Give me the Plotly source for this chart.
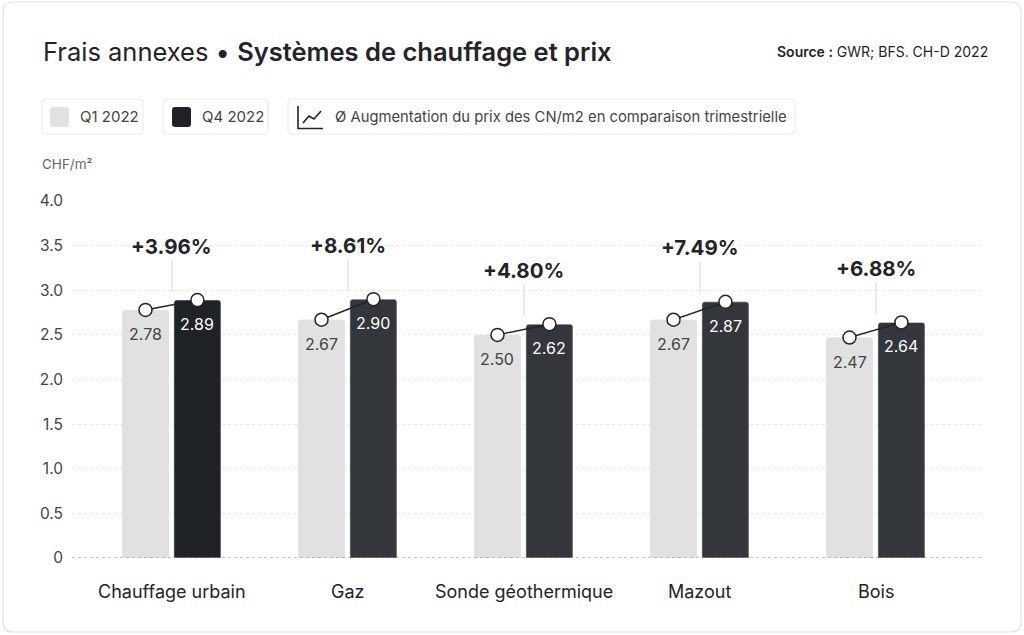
import plotly.graph_objects as go

categories = ["Chauffage urbain", "Gaz", "Sonde géothermique", "Mazout", "Bois"]
q1_values = [2.78, 2.67, 2.50, 2.67, 2.47]
q4_values = [2.89, 2.90, 2.62, 2.87, 2.64]
pct_labels = ["+3.96%", "+8.61%", "+4.80%", "+7.49%", "+6.88%"]
y_tickvals = [0, 0.5, 1.0, 1.5, 2.0, 2.5, 3.0, 3.5, 4.0]
y_ticktext = ["0", "0.5", "1.0", "1.5", "2.0", "2.5", "3.0", "3.5", "4.0"]
series_names = ["Q1 2022", "Q4 2022"]
line_legend = "Ø Augmentation du prix des CN/m2 en comparaison trimestrielle"

W, H = 1024, 635
ML, MR, MT, MB = 72, 41, 201, 77
PW, PH = W - ML - MR, H - MT - MB

def px(x):
    return (x - ML) / PW

def py(y):
    return (H - MB - y) / PH

FONT = "Inter, Roboto, sans-serif"
LIGHT = "#e1e1e1"
DARK = "#33363a"
DARKEST = "#1f2326"
TXT = "#222427"
SEMI = '<span style="font-weight:600">{}</span>'

idx = list(range(len(categories)))
BW = 0.267
OFF1, OFF2 = -0.284, 0.011
c1 = [i + OFF1 + BW / 2 for i in idx]
c2 = [i + OFF2 + BW / 2 for i in idx]

fig = go.Figure()
fig.add_trace(go.Bar(x=idx, y=q1_values, width=BW, offset=OFF1, marker_color=LIGHT,
                     name=series_names[0], showlegend=False, hoverinfo="skip"))
fig.add_trace(go.Bar(x=idx, y=q4_values, width=BW, offset=OFF2,
                     marker_color=[DARKEST] + [DARK] * (len(idx) - 1),
                     name=series_names[1], showlegend=False, hoverinfo="skip"))

lx, ly = [], []
for i in idx:
    lx += [c1[i], c2[i], None]
    ly += [q1_values[i], q4_values[i], None]
fig.add_trace(go.Scatter(x=lx, y=ly, mode="lines", line=dict(color=TXT, width=1.5),
                         showlegend=False, hoverinfo="skip"))
fig.add_trace(go.Scatter(x=c1 + c2, y=q1_values + q4_values, mode="markers",
                         marker=dict(size=13, color="white", line=dict(color=TXT, width=1.5)),
                         showlegend=False, hoverinfo="skip"))

shapes = []
annotations = []

def rounded(x0, y0, x1, y1, r):
    X0, X1 = px(x0), px(x1)
    Y0, Y1 = py(y0), py(y1)
    rx, ry = r / PW, r / PH
    return (f"M {X0+rx},{Y0} L {X1-rx},{Y0} Q {X1},{Y0} {X1},{Y0-ry} "
            f"L {X1},{Y1+ry} Q {X1},{Y1} {X1-rx},{Y1} L {X0+rx},{Y1} "
            f"Q {X0},{Y1} {X0},{Y1+ry} L {X0},{Y0-ry} Q {X0},{Y0} {X0+rx},{Y0} Z")

shapes.append(dict(type="path", xref="paper", yref="paper", path=rounded(3, 2, 1021, 632, 10),
                   line=dict(color="#e2e2e2", width=1.2), fillcolor="rgba(0,0,0,0)", layer="below"))

for (x0, x1) in [(42, 143), (163, 268), (288, 795)]:
    shapes.append(dict(type="path", xref="paper", yref="paper", path=rounded(x0, 99, x1, 134, 4),
                       line=dict(color="#e8e8e8", width=1), fillcolor="white", layer="below"))
for (x0, col) in [(50, LIGHT), (172, DARKEST)]:
    shapes.append(dict(type="path", xref="paper", yref="paper", path=rounded(x0, 107, x0 + 19, 127, 3),
                       line=dict(width=0), fillcolor=col))
annotations.append(dict(x=px(78), y=py(117), xref="paper", yref="paper", xanchor="left", yanchor="middle",
                        text=series_names[0], showarrow=False, font=dict(family=FONT, size=15, color="#444")))
annotations.append(dict(x=px(200), y=py(117), xref="paper", yref="paper", xanchor="left", yanchor="middle",
                        text=series_names[1], showarrow=False, font=dict(family=FONT, size=15, color="#444")))
shapes.append(dict(type="path", xref="paper", yref="paper",
                   path=f"M {px(298)},{py(106)} L {px(298)},{py(128.5)} L {px(323)},{py(128.5)}",
                   line=dict(color=TXT, width=1.6)))
shapes.append(dict(type="path", xref="paper", yref="paper",
                   path=f"M {px(303)},{py(123)} L {px(309)},{py(116)} L {px(314)},{py(119)} L {px(321)},{py(111)}",
                   line=dict(color=TXT, width=1.6)))
annotations.append(dict(x=px(333), y=py(117), xref="paper", yref="paper", xanchor="left", yanchor="middle",
                        text=line_legend, showarrow=False, font=dict(family=FONT, size=14.8, color="#444")))

annotations.append(dict(x=px(41), y=py(52), xref="paper", yref="paper", xanchor="left", yanchor="middle",
                        text="Frais annexes • " + SEMI.format("Systèmes de chauffage et prix"), showarrow=False,
                        font=dict(family=FONT, size=25.5, color=TXT)))
annotations.append(dict(x=px(990), y=py(52), xref="paper", yref="paper", xanchor="right", yanchor="middle",
                        text=SEMI.format("Source :") + " GWR; BFS. CH-D 2022", showarrow=False,
                        font=dict(family=FONT, size=14, color=TXT)))
annotations.append(dict(x=px(40), y=py(164), xref="paper", yref="paper", xanchor="left", yanchor="middle",
                        text="CHF/m²", showarrow=False, font=dict(family=FONT, size=13.5, color="#666")))

shapes.append(dict(type="line", xref="paper", yref="y", x0=0, x1=1, y0=0, y1=0,
                   line=dict(color="#888888", width=1.2, dash="dot")))

for i in idx:
    top = max(q1_values[i], q4_values[i])
    shapes.append(dict(type="line", xref="x", yref="y", x0=i, x1=i, ysizemode="pixel", yanchor=0,
                       y0=-12, y1=-22, line=dict(color="#cccccc", width=1)))
    annotations.append(dict(x=i, y=0, xref="x", yref="y", yshift=-33, yanchor="middle",
                            text=categories[i], showarrow=False, font=dict(family=FONT, size=18, color=TXT)))
    shapes.append(dict(type="line", xref="x", yref="y", x0=i, x1=i, ysizemode="pixel", yanchor=top,
                       y0=8, y1=40, line=dict(color="#dddddd", width=1.2)))
    annotations.append(dict(x=i, y=top, xref="x", yref="y", yshift=54, yanchor="middle",
                            text=f"<b>{pct_labels[i]}</b>", showarrow=False,
                            font=dict(family=FONT, size=20.5, color=TXT)))
    annotations.append(dict(x=c1[i], y=q1_values[i], xref="x", yref="y", yshift=-24, yanchor="middle",
                            text=f"{q1_values[i]:.2f}", showarrow=False,
                            font=dict(family=FONT, size=16, color="#444")))
    annotations.append(dict(x=c2[i], y=q4_values[i], xref="x", yref="y", yshift=-24, yanchor="middle",
                            text=f"{q4_values[i]:.2f}", showarrow=False,
                            font=dict(family=FONT, size=16, color="white")))

fig.update_layout(
    width=W, height=H,
    margin=dict(l=ML, r=MR, t=MT, b=MB, pad=0),
    paper_bgcolor="white", plot_bgcolor="white",
    barmode="overlay", barcornerradius=3,
    shapes=shapes, annotations=annotations,
    font=dict(family=FONT),
    xaxis=dict(range=[-0.568, 4.608], showticklabels=False, showgrid=False, zeroline=False,
               fixedrange=True),
    yaxis=dict(range=[0, 4.0], tickvals=y_tickvals, ticktext=y_ticktext, showgrid=True,
               gridcolor="#e6e6e6", griddash="dot", gridwidth=1, zeroline=False,
               tickfont=dict(family=FONT, size=15.5, color="#444"), ticks="", ticklabelstandoff=8,
               fixedrange=True),
)

fig.write_html("out.html", config={"displayModeBar": False},
               post_script="document.body.style.margin='0';")
